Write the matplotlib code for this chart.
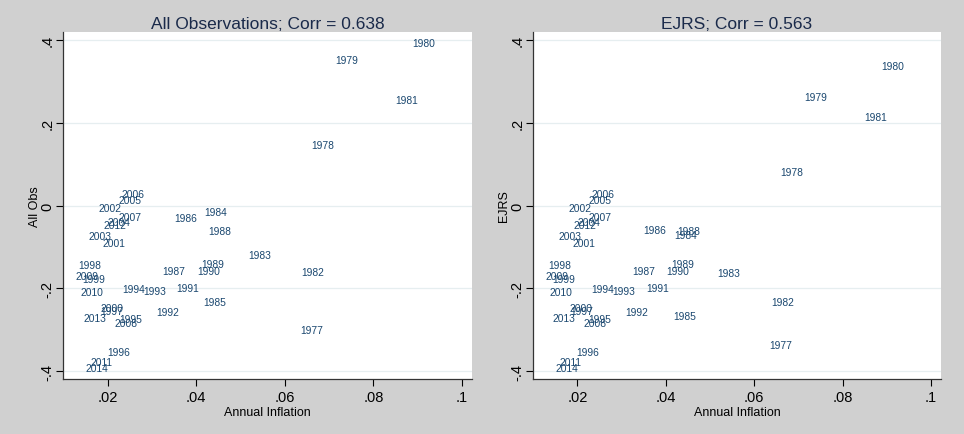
import matplotlib
matplotlib.use('Agg')
import matplotlib.pyplot as plt

plt.rcParams['font.family'] = ['Liberation Sans', 'DejaVu Sans']

years = [1977, 1978, 1979, 1980, 1981, 1982, 1983, 1984, 1985, 1986,
         1987, 1988, 1989, 1990, 1991, 1992, 1993, 1994, 1995, 1996,
         1997, 1998, 1999, 2000, 2001, 2002, 2003, 2004, 2005, 2006,
         2007, 2008, 2009, 2010, 2011, 2012, 2013, 2014]

inflation = [0.0660, 0.0685, 0.0740, 0.0914, 0.0876, 0.0664, 0.0543, 0.0444, 0.0442, 0.0375,
             0.0350, 0.0452, 0.0438, 0.0428, 0.0381, 0.0335, 0.0306, 0.0258, 0.0251, 0.0224,
             0.0209, 0.0160, 0.0169, 0.0209, 0.0215, 0.0205, 0.0183, 0.0226, 0.0251, 0.0258,
             0.0251, 0.0241, 0.0154, 0.0164, 0.0185, 0.0217, 0.0170, 0.0176]

all_obs = [-0.300, 0.145, 0.352, 0.393, 0.254, -0.161, -0.120, -0.016, -0.234, -0.031,
           -0.158, -0.062, -0.141, -0.158, -0.199, -0.256, -0.206, -0.201, -0.275, -0.353,
           -0.255, -0.144, -0.178, -0.247, -0.090, -0.007, -0.074, -0.039, 0.013, 0.027,
           -0.028, -0.284, -0.170, -0.210, -0.378, -0.047, -0.271, -0.393]

ejrs = [-0.337, 0.080, 0.263, 0.336, 0.213, -0.233, -0.164, -0.070, -0.268, -0.059,
        -0.158, -0.062, -0.141, -0.158, -0.199, -0.256, -0.206, -0.201, -0.275, -0.353,
        -0.255, -0.144, -0.178, -0.247, -0.090, -0.007, -0.074, -0.039, 0.013, 0.027,
        -0.028, -0.284, -0.170, -0.210, -0.378, -0.047, -0.271, -0.393]

titles = ['All Observations; Corr = 0.638', 'EJRS; Corr = 0.563']
ylabels = ['All Obs', 'EJRS']
xticks = [0.02, 0.04, 0.06, 0.08, 0.1]
xtick_labels = ['.02', '.04', '.06', '.08', '.1']
yticks = [-0.4, -0.2, 0, 0.2, 0.4]
ytick_labels = ['-.4', '-.2', '0', '.2', '.4']

bg = '#d0d0d0'
fig = plt.figure(figsize=(9.64, 4.35), dpi=100, facecolor=bg)
ax1 = fig.add_axes([0.0654, 0.1264, 0.4243, 0.7977])
ax2 = fig.add_axes([0.5526, 0.1264, 0.4236, 0.7977])

for ax, yvals, title, ylab in zip([ax1, ax2], [all_obs, ejrs], titles, ylabels):
    ax.set_facecolor('white')
    for yr, x, y in zip(years, inflation, yvals):
        ax.text(x, y, str(yr), ha='center', va='center', fontsize=7.4,
                color='#1a476f')
    ax.set_xlim(0.0099, 0.1023)
    ax.set_ylim(-0.419, 0.419)
    ax.set_xticks(xticks)
    ax.set_xticklabels(xtick_labels)
    ax.set_yticks(yticks)
    ax.set_yticklabels(ytick_labels, rotation=90, va='center')
    ax.tick_params(direction='out', length=5, width=0.8, labelsize=10.5,
                   colors='#000000', pad=3)
    ax.tick_params(axis='y', pad=1)
    ax.grid(axis='y', color='#e6eef0', linewidth=0.9)
    ax.set_axisbelow(True)
    for s in ['top', 'right']:
        ax.spines[s].set_visible(False)
    for s in ['left', 'bottom']:
        ax.spines[s].set_color('#333333')
        ax.spines[s].set_linewidth(0.9)
    ax.set_title(title, fontsize=12.5, color='#1a2a4a', pad=3)
    ax.set_xlabel('Annual Inflation', fontsize=9, labelpad=1)
    ax.set_ylabel(ylab, fontsize=9, labelpad=0)

fig.savefig('out.png', dpi=100, facecolor=bg)
